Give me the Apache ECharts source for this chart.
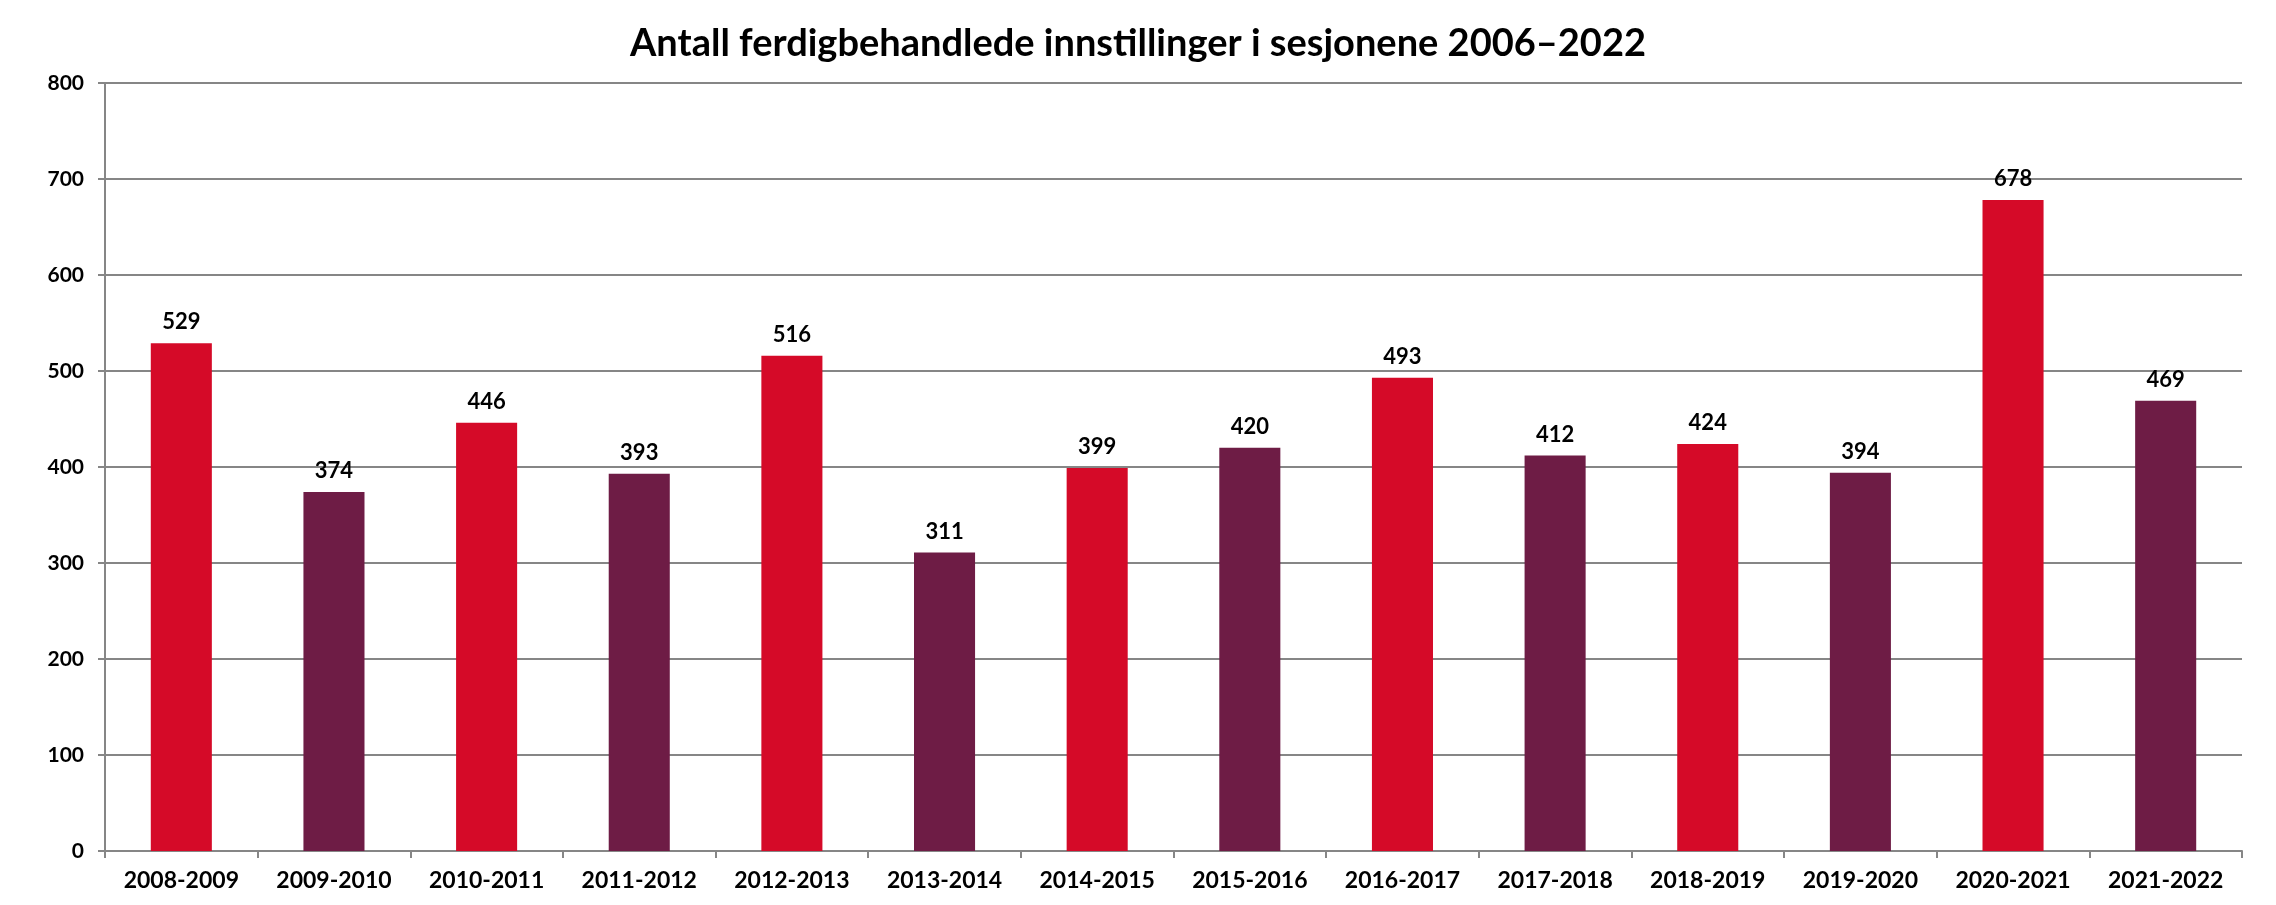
<!DOCTYPE html>
<html>
<head>
<meta charset="utf-8">
<script src="https://cdn.jsdelivr.net/npm/echarts@6/dist/echarts.min.js"></script>
<style>
html,body{margin:0;padding:0;background:#fff;}
#chart{width:2276px;height:905px;}
</style>
</head>
<body>
<div id="chart"></div>
<script>
var titleText = 'Antall ferdigbehandlede innstillinger i sesjonene 2006–2022';
var categories = ['2008-2009','2009-2010','2010-2011','2011-2012','2012-2013','2013-2014','2014-2015','2015-2016','2016-2017','2017-2018','2018-2019','2019-2020','2020-2021','2021-2022'];
var values = [529,374,446,393,516,311,399,420,493,412,424,394,678,469];
var barColors = ['#D50A28','#6E1C45'];
var yMin = 0, yMax = 800, yInterval = 100;

var FONT = 'Lato, "Open Sans", sans-serif';
var chart = echarts.init(document.getElementById('chart'));
chart.setOption({
  animation: false,
  backgroundColor: '#ffffff',
  title: {
    text: titleText,
    left: 'center',
    top: 20,
    textStyle: {fontFamily: FONT, fontSize: 38, fontWeight: 'bold', color: '#000'}
  },
  grid: {left: 105, right: 34, top: 83, bottom: 54, containLabel: false},
  xAxis: {
    type: 'category',
    data: categories,
    axisLine: {lineStyle: {color: '#868686', width: 2}},
    axisTick: {show: true, length: 7, lineStyle: {color: '#868686', width: 2}},
    axisLabel: {margin: 18, fontFamily: FONT, fontSize: 23, fontWeight: 'bold', color: '#000'}
  },
  yAxis: {
    type: 'value',
    min: yMin, max: yMax, interval: yInterval,
    axisLine: {show: true, lineStyle: {color: '#868686', width: 2}},
    axisTick: {show: true, length: 7, lineStyle: {color: '#868686', width: 2}},
    splitLine: {lineStyle: {color: '#868686', width: 2}},
    axisLabel: {margin: 21, fontFamily: FONT, fontSize: 21, fontWeight: 'bold', color: '#000'}
  },
  series: [{
    type: 'bar',
    data: values.map(function(v, i){ return {value: v, itemStyle: {color: barColors[i % 2]}}; }),
    barWidth: '40%',
    label: {show: true, position: 'top', distance: 10, fontFamily: FONT, fontSize: 22, fontWeight: 'bold', color: '#000'}
  }]
});
</script>
</body>
</html>
